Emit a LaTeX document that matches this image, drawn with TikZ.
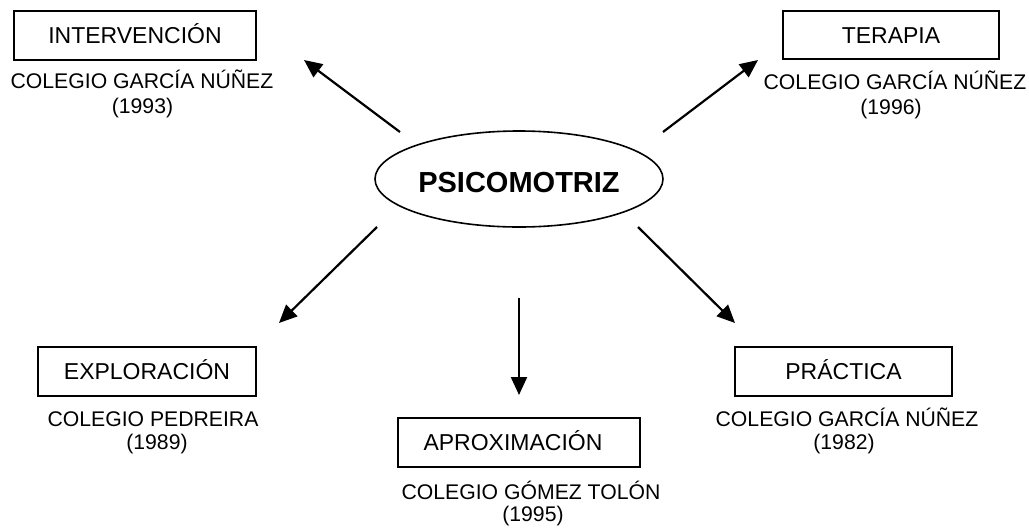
\documentclass[tikz,border=0pt]{standalone}
\usepackage{fontspec}
\setmainfont{Liberation Sans}
\usetikzlibrary{arrows.meta,shapes.geometric}
\tikzset{
  boxnode/.style={draw, line width=1.5pt, inner sep=0pt, font=\fontsize{23}{27}\selectfont, text height=16.5pt, text depth=0pt},
  subtext/.style={anchor=base, inner sep=0pt, font=\fontsize{21.2}{25}\selectfont},
  conn/.style={line width=2.2pt, -{Triangle[length=18pt,width=16pt]}},
}
\begin{document}
\begin{tikzpicture}[x=1pt,y=-1pt]
\useasboundingbox (0,0) rectangle (1029,528);
% centre
\node[ellipse, draw, line width=1.6pt, minimum width=288pt, minimum height=96pt, inner sep=0pt,
  font=\bfseries\fontsize{29}{33}\selectfont, text height=20.8pt, text depth=0pt] (ell) at (519,179) {\raisebox{-3.5pt}{PSICOMOTRIZ}};
% boxes
\node[boxnode, minimum width=242pt, minimum height=49pt] (inter) at (135,35.5) {INTERVENCIÓN};
\node[boxnode, minimum width=216pt, minimum height=48pt] (tera) at (891,35) {TERAPIA};
\node[boxnode, minimum width=218pt, minimum height=49pt] (expl) at (147,371.5) {EXPLORACIÓN};
\node[boxnode, minimum width=242pt, minimum height=49pt] (aprox) at (519,442.5) {APROXIMACIÓN\kern12pt};
\node[boxnode, minimum width=217pt, minimum height=49pt] (prac) at (843.5,371.5) {PRÁCTICA};
% sub texts
\node[subtext] (interc) at (142,88) {COLEGIO GARCÍA NÚÑEZ};
\node[subtext] (intery) at (142.5,113) {(1993)};
\node[subtext] (terac) at (895,89) {COLEGIO GARCÍA NÚÑEZ};
\node[subtext] (teray) at (891,114) {(1996)};
\node[subtext] (explc) at (153,426) {COLEGIO PEDREIRA};
\node[subtext] (exply) at (157,449) {(1989)};
\node[subtext] (aproxc) at (531,499) {COLEGIO GÓMEZ TOLÓN};
\node[subtext] (aproxy) at (533,521) {(1995)};
\node[subtext] (pracc) at (847,426) {COLEGIO GARCÍA NÚÑEZ};
\node[subtext] (pracy) at (844,449) {(1982)};
% arrow ends
\coordinate (t1) at (400,132); \coordinate (h1) at (304,60);
\coordinate (t2) at (663,132); \coordinate (h2) at (758,60);
\coordinate (t3) at (377,227); \coordinate (h3) at (279,323);
\coordinate (t4) at (519,298); \coordinate (h4) at (519,395);
\coordinate (t5) at (638,227); \coordinate (h5) at (735,323);
\draw[conn] (t1) -- (h1);
\draw[conn] (t2) -- (h2);
\draw[conn] (t3) -- (h3);
\draw[conn] (t4) -- (h4);
\draw[conn] (t5) -- (h5);
\end{tikzpicture}
\end{document}
